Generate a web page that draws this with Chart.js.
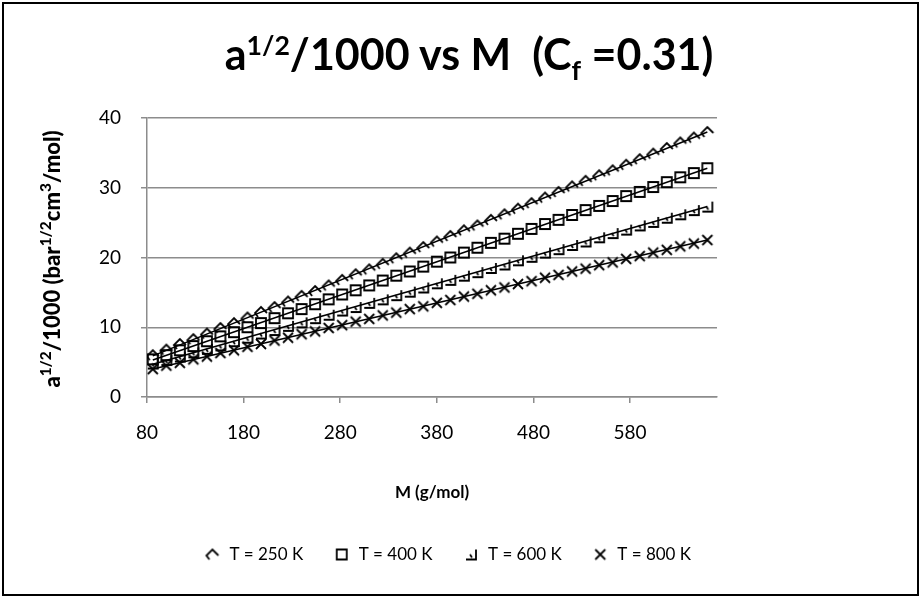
<!DOCTYPE html>
<html>
<head>
<meta charset="utf-8">
<script src="https://cdn.jsdelivr.net/npm/chart.js@4.4.0/dist/chart.umd.min.js"></script>
<style>
  html, body { margin: 0; padding: 0; background: #fff; }
  #wrap { position: relative; width: 923px; height: 599px; font-family: Lato, "Open Sans", sans-serif; }
  #frame { position: absolute; left: 2px; top: 2px; width: 913px; height: 590px; border: 2.5px solid #000; pointer-events: none; }
  #chart { position: absolute; left: 0; top: 0; }
  #title { position: absolute; left: 0; width: 938px; top: 28px; text-align: center; font-weight: bold; font-size: 43px; line-height: 52px; color: #000; }
  #title sup, #title sub { font-size: 62%; line-height: 0; }
  #ytitle { position: absolute; left: 51px; top: 259px; transform: translate(-50%, -50%) rotate(-90deg); white-space: nowrap; font-weight: 900; font-size: 22px; color: #000; }
  #ytitle sup { font-size: 70%; line-height: 0; }
</style>
</head>
<body>
<div id="wrap">
  <canvas id="chart" width="923" height="599"></canvas>
  <div id="title">a<sup>1/2</sup>/1000 vs M&nbsp; (C<sub>f</sub> =0.31)</div>
  <div id="ytitle">a<sup>1/2</sup>/1000 (bar<sup>1/2</sup>cm<sup>3</sup>/mol)</div>
  <div id="frame"></div>
</div>
<script>
// molar mass (g/mol) of each point
const massValues = [86, 100, 114, 128, 142, 156, 170, 184, 198, 212, 226, 240, 254, 268, 282, 296, 310, 324, 338, 352, 366,
  380, 394, 408, 422, 436, 450, 464, 478, 492, 506, 520, 534, 548, 562, 576, 590, 604, 618, 632, 646, 660];

const t250Values = [6.0, 6.8, 7.6, 8.3, 9.1, 9.9, 10.6, 11.4, 12.2, 12.9, 13.7, 14.5, 15.2, 16.0, 16.8, 17.6, 18.3, 19.1, 19.9, 20.7, 21.5,
  22.3, 23.1, 23.9, 24.6, 25.4, 26.2, 27.0, 27.8, 28.6, 29.4, 30.2, 31.0, 31.8, 32.5, 33.3, 34.1, 34.9, 35.7, 36.5, 37.2, 38.0];
const t400Values = [5.4, 6.0, 6.7, 7.3, 8.0, 8.7, 9.3, 10.0, 10.6, 11.3, 12.0, 12.6, 13.3, 14.0, 14.7, 15.3, 16.0, 16.7, 17.4, 18.0, 18.7,
  19.4, 20.0, 20.7, 21.4, 22.1, 22.7, 23.4, 24.1, 24.8, 25.4, 26.1, 26.8, 27.4, 28.1, 28.8, 29.4, 30.1, 30.8, 31.5, 32.1, 32.8];
const t600Values = [4.8, 5.3, 5.8, 6.4, 6.9, 7.4, 8.0, 8.5, 9.1, 9.6, 10.2, 10.7, 11.3, 11.8, 12.4, 12.9, 13.5, 14.0, 14.6, 15.1, 15.7,
  16.3, 16.8, 17.4, 17.9, 18.5, 19.0, 19.6, 20.1, 20.7, 21.2, 21.8, 22.3, 22.9, 23.5, 24.0, 24.6, 25.1, 25.7, 26.2, 26.8, 27.3];
const t800Values = [4.0, 4.5, 4.9, 5.4, 5.8, 6.3, 6.7, 7.2, 7.6, 8.1, 8.5, 9.0, 9.4, 9.9, 10.3, 10.8, 11.2, 11.7, 12.1, 12.6, 13.0,
  13.5, 13.9, 14.4, 14.8, 15.3, 15.7, 16.2, 16.6, 17.1, 17.5, 18.0, 18.4, 18.9, 19.3, 19.8, 20.2, 20.7, 21.1, 21.6, 22.0, 22.5];

// linear trendlines (start / end)
const trendMass = [86, 660];
const trend250 = [5.9, 38.0];
const trend400 = [5.3, 32.8];
const trend600 = [4.7, 27.3];
const trend800 = [4.0, 22.5];

const seriesLabels = ['T = 250 K', 'T = 400 K', 'T = 600 K', 'T = 800 K'];
const xTicks = [80, 180, 280, 380, 480, 580];
const yTicks = [0, 10, 20, 30, 40];

function makeMarker(draw) {
  const c = document.createElement('canvas');
  c.width = 16;
  c.height = 16;
  const ctx = c.getContext('2d');
  ctx.strokeStyle = '#000';
  ctx.lineWidth = 1.8;
  ctx.translate(8, 8);
  ctx.beginPath();
  draw(ctx);
  ctx.stroke();
  return c;
}

const markers = [
  makeMarker(ctx => { // open diamond, Excel style
    ctx.moveTo(-3, 5); ctx.lineTo(-6, 1); ctx.lineTo(0, -5); ctx.lineTo(6, 1);
  }),
  makeMarker(ctx => { ctx.rect(-5, -5, 10, 10); }),
  makeMarker(ctx => { // open triangle
    ctx.moveTo(-5, 5); ctx.lineTo(5, 5); ctx.lineTo(5, -5);
    ctx.moveTo(-1, 0); ctx.lineTo(1, 3);
  }),
  makeMarker(ctx => {
    ctx.moveTo(-5, -5); ctx.lineTo(5, 5);
    ctx.moveTo(-5, 5); ctx.lineTo(5, -5);
  })
];

function toPoints(xs, ys) {
  return xs.map((x, i) => ({ x: x, y: ys[i] }));
}

const seriesValues = [t250Values, t400Values, t600Values, t800Values];
const trendValues = [trend250, trend400, trend600, trend800];

const datasets = [];
seriesValues.forEach((vals, i) => {
  datasets.push({
    label: seriesLabels[i],
    data: toPoints(massValues, vals),
    showLine: false,
    pointStyle: markers[i],
    borderColor: '#000',
    backgroundColor: 'transparent',
    order: 2
  });
});
trendValues.forEach((vals, i) => {
  datasets.push({
    label: 'trend' + i,
    data: toPoints(trendMass, vals),
    showLine: true,
    borderColor: '#000',
    borderWidth: 1.5,
    pointRadius: 0,
    order: 1
  });
});

// legend in the original sits right of the plot centre
const legendShift = {
  id: 'legendShift',
  afterLayout(chart) {
    chart.legend.left += 89;
    chart.legend.right += 89;
  }
};

const gridGray = '#8c8c8c';
const fontFamily = 'Lato, "Open Sans", sans-serif';
const tickFont = { family: fontFamily, size: 19 };

new Chart(document.getElementById('chart'), {
  type: 'scatter',
  data: { datasets: datasets },
  plugins: [legendShift],
  options: {
    responsive: false,
    animation: false,
    layout: { padding: { left: 0, right: 206, top: 118, bottom: 26 } },
    plugins: {
      tooltip: { enabled: false },
      title: { display: false },
      legend: {
        position: 'bottom',
        labels: {
          filter: item => item.datasetIndex < 4,
          usePointStyle: true,
          color: '#000',
          padding: 30,
          font: { family: fontFamily, size: 17 }
        }
      }
    },
    scales: {
      x: {
        type: 'linear',
        min: 80,
        max: 670,
        afterBuildTicks: scale => { scale.ticks = xTicks.map(v => ({ value: v })); },
        afterFit: scale => { scale.height = 119; },
        grid: { drawOnChartArea: false, color: gridGray, tickLength: 6, lineWidth: 1.5 },
        border: { color: gridGray, width: 1.5 },
        ticks: { color: '#000', font: tickFont, padding: 18 },
        title: {
          display: true,
          text: 'M (g/mol)',
          color: '#000',
          font: { family: fontFamily, size: 17, weight: 'bold' },
          padding: { top: 0, bottom: 13 }
        }
      },
      y: {
        min: 0,
        max: 40,
        afterBuildTicks: scale => { scale.ticks = yTicks.map(v => ({ value: v })); },
        afterFit: scale => { scale.width = 147; },
        grid: { color: gridGray, tickLength: 6, lineWidth: 1.5 },
        border: { color: gridGray, width: 1.5 },
        ticks: { color: '#000', font: tickFont, padding: 20 }
      }
    }
  }
});
</script>
</body>
</html>
